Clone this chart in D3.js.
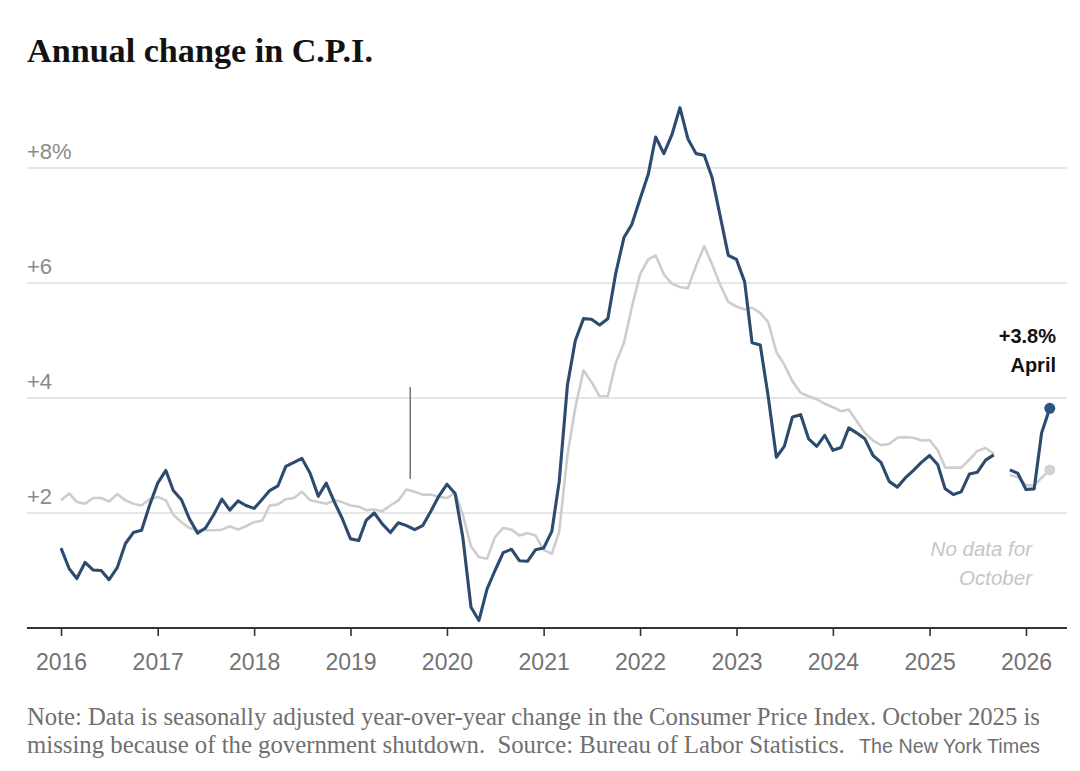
<!DOCTYPE html>
<html><head><meta charset="utf-8">
<script src="https://cdn.jsdelivr.net/npm/d3@7"></script>
<style>body{margin:0;background:#fff} svg{display:block} text{white-space:pre}</style>
</head><body>
<svg id="c" width="1080" height="771"></svg>
<script>
// ---- data ----
const startMonth = "2016-01";
// Headline CPI, year-over-year % change, Jan 2016 .. Apr 2026 (Oct 2025 missing)
const headline = [
  1.39, 1.03, 0.86, 1.14, 1.01, 1.00, 0.84, 1.05, 1.47, 1.66, 1.70, 2.13,
  2.52, 2.74, 2.39, 2.23, 1.90, 1.65, 1.74, 1.97, 2.24, 2.05, 2.21, 2.13,
  2.08, 2.24, 2.39, 2.47, 2.81, 2.88, 2.95, 2.69, 2.29, 2.52, 2.19, 1.90,
  1.55, 1.52, 1.87, 2.00, 1.81, 1.66, 1.83, 1.78, 1.71, 1.78, 2.03, 2.29,
  2.50, 2.34, 1.58, 0.36, 0.13, 0.68, 1.00, 1.31, 1.37, 1.17, 1.16, 1.36,
  1.39, 1.68, 2.55, 4.22, 5.00, 5.38, 5.37, 5.27, 5.38, 6.17, 6.79, 7.02,
  7.46, 7.89, 8.54, 8.25, 8.57, 9.05, 8.51, 8.25, 8.22, 7.83, 7.15, 6.48,
  6.41, 6.02, 4.96, 4.92, 4.03, 2.97, 3.16, 3.67, 3.71, 3.29, 3.16, 3.35,
  3.09, 3.14, 3.48, 3.39, 3.29, 3.00, 2.88, 2.55, 2.45, 2.61, 2.74, 2.88,
  3.00, 2.84, 2.42, 2.32, 2.37, 2.68, 2.71, 2.92, 3.01, null, 2.75, 2.69,
  2.41, 2.42, 3.39, 3.82
];
// Core CPI (gray line)
const core = [
  2.22, 2.34, 2.19, 2.16, 2.26, 2.26, 2.20, 2.33, 2.22, 2.16, 2.13, 2.24,
  2.28, 2.22, 1.97, 1.84, 1.74, 1.70, 1.70, 1.70, 1.71, 1.77, 1.71, 1.77,
  1.84, 1.87, 2.13, 2.15, 2.24, 2.26, 2.37, 2.22, 2.19, 2.16, 2.22, 2.19,
  2.13, 2.11, 2.05, 2.06, 2.03, 2.13, 2.22, 2.41, 2.37, 2.32, 2.32, 2.28,
  2.26, 2.35, 1.97, 1.42, 1.23, 1.21, 1.58, 1.74, 1.71, 1.61, 1.65, 1.61,
  1.36, 1.29, 1.68, 3.00, 3.84, 4.48, 4.28, 4.03, 4.03, 4.61, 4.96, 5.58,
  6.15, 6.41, 6.48, 6.15, 5.99, 5.93, 5.91, 6.30, 6.64, 6.32, 5.96, 5.67,
  5.59, 5.54, 5.57, 5.48, 5.32, 4.80, 4.58, 4.29, 4.09, 4.03, 3.98, 3.90,
  3.84, 3.77, 3.80, 3.59, 3.39, 3.26, 3.18, 3.20, 3.31, 3.32, 3.31, 3.26,
  3.27, 3.09, 2.79, 2.79, 2.79, 2.93, 3.08, 3.13, 3.03, null, 2.66, 2.62,
  2.48, 2.48, 2.61, 2.75
];
const yTicks = [2, 4, 6, 8];
const yTickLabels = ["+2", "+4", "+6", "+8%"];
const xTickYears = [2016, 2017, 2018, 2019, 2020, 2021, 2022, 2023, 2024, 2025, 2026];
const titleText = "Annual change in C.P.I.";
const endLabel = ["+3.8%", "April"];
const gapLabel = ["No data for", "October"];
const noteLine1 = "Note: Data is seasonally adjusted year-over-year change in the Consumer Price Index. October 2025 is";
const noteLine2 = "missing because of the government shutdown.  Source: Bureau of Labor Statistics.";
const credit = "The New York Times";
const markerDate = "2019-08-15";
const markerRange = [2.59, 4.19];

// ---- build ----
const parseM = d3.timeParse("%Y-%m");
const start = parseM(startMonth);
const rows = headline.map((v, i) => ({date: d3.timeMonth.offset(start, i), h: v, c: core[i]}));

const svg = d3.select("#c");
const x = d3.scaleTime().domain([new Date(2016, 0, 1), new Date(2026, 0, 1)]).range([61, 1026]);
const y = d3.scaleLinear().domain([0, 8]).range([628, 168]);
const left = 27, right = 1067;

function fit(sel, w) {
  const n = sel.node();
  const fs = parseFloat(sel.attr("font-size"));
  const cw = n.getComputedTextLength();
  sel.attr("font-size", (fs * w / cw).toFixed(2));
}

// title
const title = svg.append("text").attr("x", 27).attr("y", 62)
  .attr("font-family", "'Liberation Serif', 'DejaVu Serif', serif").attr("font-weight", "bold")
  .attr("font-size", 30).attr("fill", "#121212").text(titleText);
fit(title, 346);

// grid
const grid = svg.append("g");
grid.selectAll("line").data(yTicks).join("line")
  .attr("x1", left).attr("x2", right)
  .attr("y1", d => y(d)).attr("y2", d => y(d))
  .attr("stroke", "#dedede").attr("stroke-width", 1.3);
grid.selectAll("text").data(yTicks).join("text")
  .attr("x", left).attr("y", d => y(d) - 9)
  .attr("font-family", "'Liberation Sans', Arial, sans-serif").attr("font-size", 22)
  .attr("fill", "#8a8a8a").text((d, i) => yTickLabels[i]);

// x axis
const xAxis = d3.axisBottom(x)
  .tickValues(xTickYears.map(yr => new Date(yr, 0, 1)))
  .tickFormat(d3.timeFormat("%Y")).tickSize(8).tickSizeOuter(0);
const gx = svg.append("g").attr("transform", `translate(0,${y(0)})`).call(xAxis);
gx.select(".domain").remove();
gx.selectAll(".tick line").attr("stroke", "#333").attr("stroke-width", 1.6);
gx.selectAll(".tick text").attr("y", 42).attr("dy", null)
  .attr("font-family", "'Liberation Sans', Arial, sans-serif")
  .attr("font-size", 23).attr("fill", "#737373");
svg.append("line").attr("x1", left).attr("x2", right).attr("y1", y(0)).attr("y2", y(0))
  .attr("stroke", "#333").attr("stroke-width", 1.8);

// marker line
svg.append("line")
  .attr("x1", x(new Date(markerDate))).attr("x2", x(new Date(markerDate)))
  .attr("y1", y(markerRange[1])).attr("y2", y(markerRange[0]))
  .attr("stroke", "#6a6a6a").attr("stroke-width", 1.4);

// lines
const lineC = d3.line().defined(d => d.c != null).x(d => x(d.date)).y(d => y(d.c));
const lineH = d3.line().defined(d => d.h != null).x(d => x(d.date)).y(d => y(d.h));
svg.append("path").datum(rows).attr("d", lineC).attr("fill", "none")
  .attr("stroke", "#cdcdcd").attr("stroke-width", 2.6).attr("stroke-linejoin", "round");
svg.append("path").datum(rows).attr("d", lineH).attr("fill", "none")
  .attr("stroke", "#2c4b6e").attr("stroke-width", 3.1).attr("stroke-linejoin", "round");

const last = rows[rows.length - 1];
svg.append("circle").attr("cx", x(last.date)).attr("cy", y(last.c)).attr("r", 5.5).attr("fill", "#d2d2d2");
svg.append("circle").attr("cx", x(last.date)).attr("cy", y(last.h)).attr("r", 5.5).attr("fill", "#2d5283");

// end label
svg.append("g").selectAll("text").data(endLabel).join("text")
  .attr("x", 1056).attr("y", (d, i) => 343 + i * 29).attr("text-anchor", "end")
  .attr("font-family", "'Liberation Sans', Arial, sans-serif").attr("font-weight", "bold")
  .attr("font-size", 20).attr("fill", "#121212").text(d => d);

// gap label
svg.append("g").selectAll("text").data(gapLabel).join("text")
  .attr("x", 1032).attr("y", (d, i) => 556 + i * 29).attr("text-anchor", "end")
  .attr("font-family", "'Liberation Sans', Arial, sans-serif").attr("font-style", "italic")
  .attr("font-size", 20.5).attr("fill", "#c6c6c6").text(d => d);

// notes
const n1 = svg.append("text").attr("x", 27).attr("y", 725)
  .attr("font-family", "'Liberation Serif', serif").attr("font-size", 20)
  .attr("fill", "#6f6f6f").text(noteLine1);
fit(n1, 1013);
const n2 = svg.append("text").attr("x", 27).attr("y", 753)
  .attr("font-family", "'Liberation Serif', serif").attr("font-size", 20)
  .attr("fill", "#6f6f6f").text(noteLine2);
fit(n2, 818);
const cr = svg.append("text").attr("x", 1040).attr("y", 753).attr("text-anchor", "end")
  .attr("font-family", "'Liberation Sans', Arial, sans-serif").attr("font-size", 18)
  .attr("fill", "#6f6f6f").text(credit);
fit(cr, 181);
</script>
</body></html>
